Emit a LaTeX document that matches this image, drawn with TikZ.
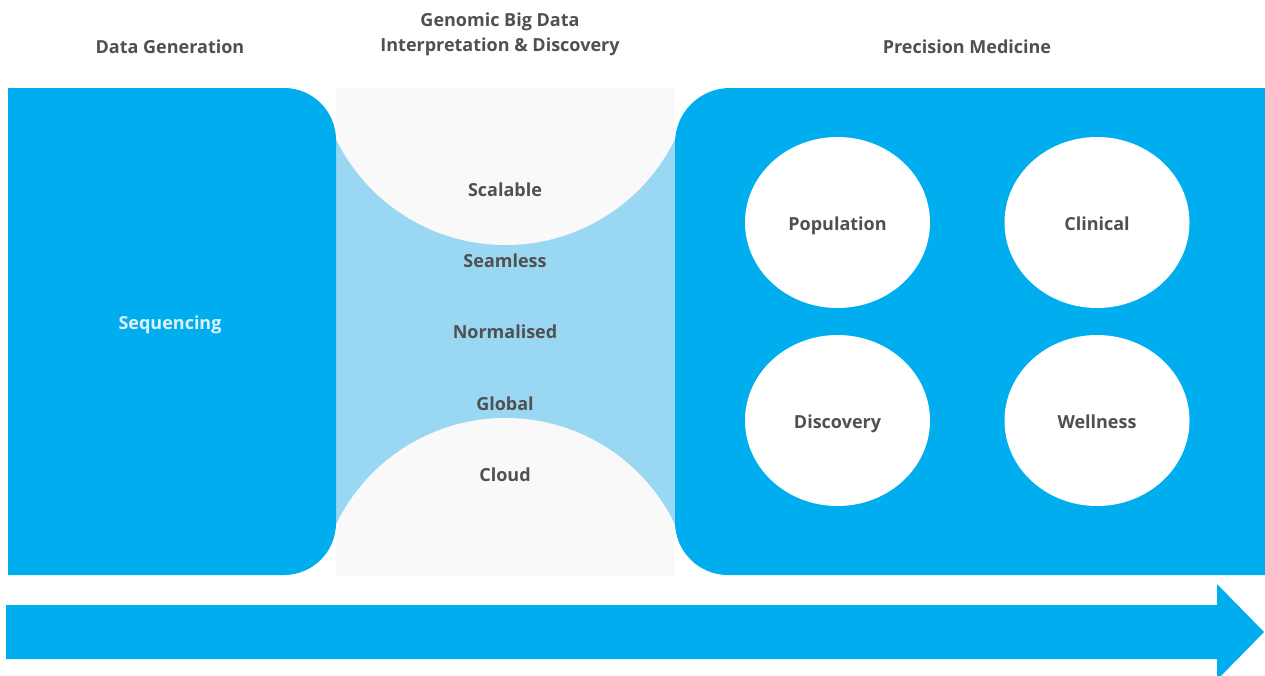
\documentclass[tikz,border=0pt]{standalone}
\usepackage{fontspec}
\setmainfont{Open Sans}
\usetikzlibrary{shapes.geometric}
\definecolor{mainblue}{RGB}{0,174,239}
\definecolor{lightblue}{RGB}{154,215,243}
\definecolor{paleg}{RGB}{249,249,249}
\definecolor{txt}{RGB}{80,80,80}
\definecolor{seqtxt}{RGB}{222,241,251}
\tikzset{
  lbl/.style={font=\bfseries\fontsize{18}{22}\selectfont, text=txt, inner sep=0pt, align=center,
    text height=16pt, text depth=1pt},
  hdr/.style={font=\bfseries\fontsize{18}{25}\selectfont, text=txt, inner sep=0pt, align=center},
  bubble/.style={ellipse, fill=white, minimum width=185pt, minimum height=171pt, inner sep=0pt,
    font=\bfseries\fontsize{18}{22}\selectfont, text=txt, text height=16pt, text depth=1pt},
}
\begin{document}
\begin{tikzpicture}[x=1pt,y=-1pt]
\useasboundingbox (0,0) rectangle (1265,675);
% middle panel
\fill[lightblue] (336,88) rectangle (675,575);
\begin{scope}
  \clip (336,88) rectangle (675,575);
  \fill[paleg] (336,88) rectangle (675,140);
  \fill[paleg] (505.5,56.5) circle[radius=188.5];
  \fill[paleg] (505.5,606) circle[radius=188];
  \fill[paleg] (336,530) rectangle (675,575);
\end{scope}
% left panel
\fill[mainblue] (8,88) -- (284,88) .. controls (312.7,88) and (336,111.3) .. (336,140)
  -- (336,523) .. controls (336,551.7) and (312.7,575) .. (284,575) -- (8,575) -- cycle;
% right panel
\fill[mainblue] (1265,88) -- (730,88) .. controls (699.6,88) and (675,112.6) .. (675,143)
  -- (675,522) .. controls (675,551.3) and (698.7,575) .. (728,575) -- (1265,575) -- cycle;
% arrow
\fill[mainblue] (6,605) -- (1217,605) -- (1217,584) -- (1264,632) -- (1217,680) -- (1217,659) -- (6,659) -- cycle;
% headers
\node[hdr] (h1) at (170,46.5) {Data Generation};
\node[hdr] (h2) at (500,34) {Genomic Big Data\\Interpretation \& Discovery};
\node[hdr] (h3) at (967,46.5) {Precision Medicine};
% left text
\node[lbl, text=seqtxt] (seq) at (170,322) {Sequencing};
% middle texts
\node[lbl] (m1) at (505,189) {Scalable};
\node[lbl] (m2) at (505,260) {Seamless};
\node[lbl] (m3) at (505,331) {Normalised};
\node[lbl] (m4) at (505,403) {Global};
\node[lbl] (m5) at (505,474) {Cloud};
% bubbles
\node[bubble] (pop) at (837.5,222.5) {Population};
\node[bubble] (cli) at (1097,222.5) {Clinical};
\node[bubble] (dis) at (837.5,420.5) {Discovery};
\node[bubble] (wel) at (1097,420.5) {Wellness};
\end{tikzpicture}
\end{document}
